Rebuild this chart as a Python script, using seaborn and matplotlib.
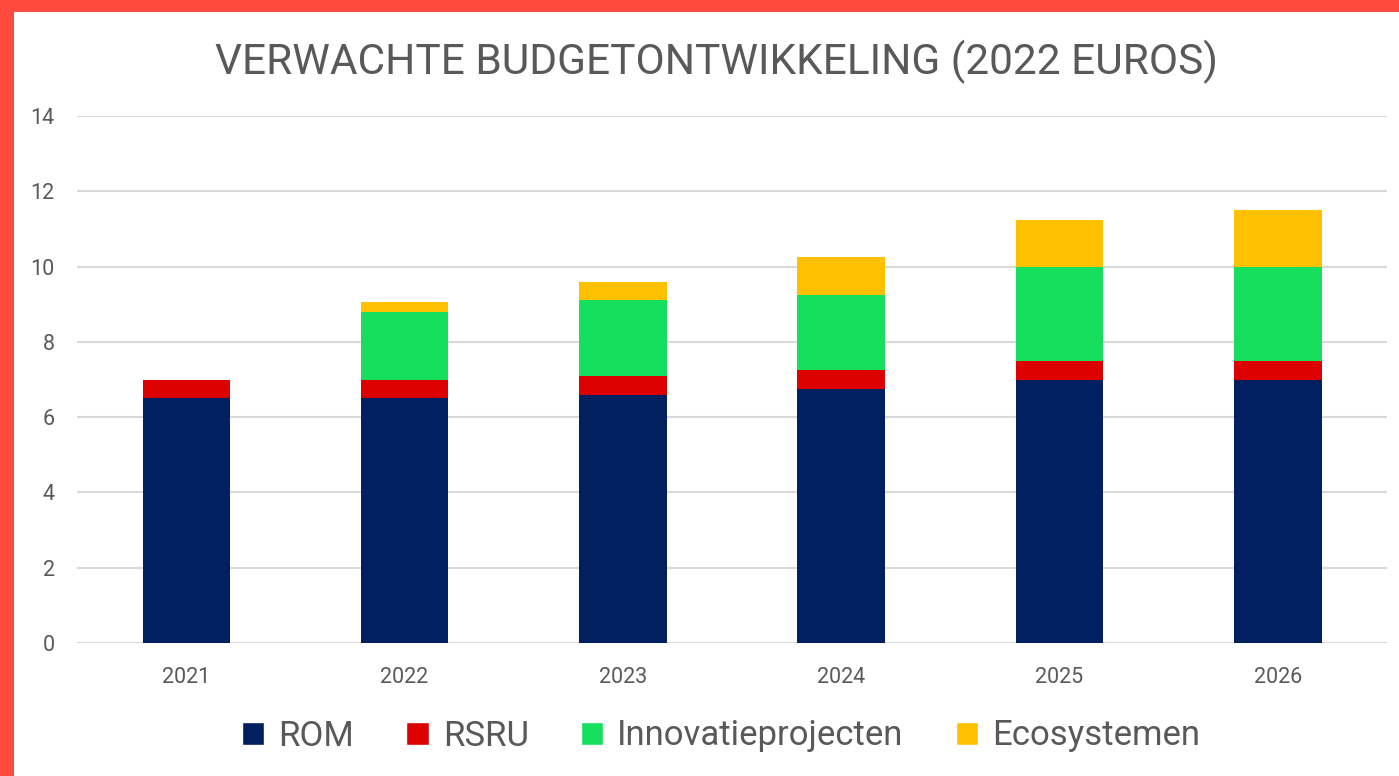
import pandas as pd
import matplotlib.pyplot as plt
import seaborn as sns
from matplotlib.patches import Rectangle

years = ["2021", "2022", "2023", "2024", "2025", "2026"]
rom = [6.5, 6.5, 6.6, 6.75, 7.0, 7.0]
rsru = [0.5, 0.5, 0.5, 0.5, 0.5, 0.5]
innovatie = [0.0, 1.8, 2.0, 2.0, 2.5, 2.5]
ecosystemen = [0.0, 0.25, 0.5, 1.0, 1.25, 1.5]

series = ["ROM", "RSRU", "Innovatieprojecten", "Ecosystemen"]
colors = ["#002060", "#DC0000", "#17DF5E", "#FFC000"]

df = pd.DataFrame({"Jaar": years, "ROM": rom, "RSRU": rsru,
                   "Innovatieprojecten": innovatie, "Ecosystemen": ecosystemen})
# cumulative tops for stacking
cum = df[series].cumsum(axis=1)
cum["Jaar"] = df["Jaar"]

sns.set_style("white")
plt.rcParams["font.family"] = ["Roboto", "DejaVu Sans"]

fig = plt.figure(figsize=(13.99, 7.76), dpi=100)
fig.patch.set_facecolor("#FF4B3E")
fig.patches.append(Rectangle((14 / 1399, 0), 1, 1 - 12 / 776, transform=fig.transFigure,
                             facecolor="white", edgecolor="none", zorder=-1))

ax = fig.add_axes([77 / 1399, 1 - 643 / 776, 1310 / 1399, 527 / 776])
ax.set_facecolor("none")
ax.set_zorder(2)

# draw from the top layer down so each stack segment shows
for name, col in reversed(list(zip(series, colors))):
    sns.barplot(data=cum, x="Jaar", y=name, color=col, width=0.4, ax=ax,
                saturation=1, edgecolor="none", zorder=3)

ax.set_ylim(0, 14)
ax.set_yticks(range(0, 15, 2))
ax.yaxis.grid(True, color="#D9D9D9", linewidth=1.5, zorder=0)
ax.set_axisbelow(True)
for s in ax.spines.values():
    s.set_visible(False)
ax.set_xlabel("")
ax.set_ylabel("")
ax.tick_params(axis="both", length=0, labelsize=15.5, labelcolor="#595959")
ax.tick_params(axis="y", pad=16)
ax.tick_params(axis="x", pad=17)

fig.text(716 / 1399, 1 - 62 / 776, "VERWACHTE BUDGETONTWIKKELING (2022 EUROS)",
         ha="center", va="center", fontsize=30.5, color="#595959")

handles = [Rectangle((0, 0), 1, 1, facecolor=c) for c in colors]
fig.legend(handles, series, loc="center", bbox_to_anchor=(721 / 1399, 1 - 736 / 776),
           ncol=4, frameon=False, fontsize=25, labelcolor="#595959",
           handlelength=0.65, handleheight=0.65, handletextpad=0.4, columnspacing=1.5)

fig.savefig("out.png", dpi=100, facecolor=fig.get_facecolor())
